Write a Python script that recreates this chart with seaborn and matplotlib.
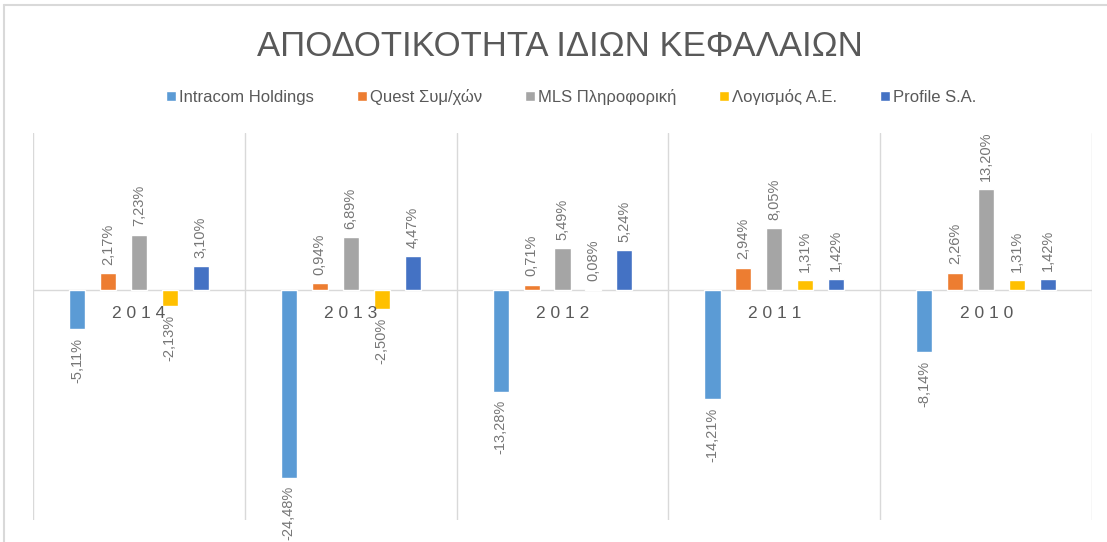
"""
Return on equity per company, 2010-2014
"""

import pandas as pd
import seaborn as sns
import matplotlib.pyplot as plt
from matplotlib.lines import Line2D

# data
YEARS = ['2014', '2013', '2012', '2011', '2010']
COMPANIES = ['Intracom Holdings', 'Quest Συμ/χών', 'MLS Πληροφορική', 'Λογισμός Α.Ε.', 'Profile S.A.']
INTRACOM = [-5.11, -24.48, -13.28, -14.21, -8.14]
QUEST = [2.17, 0.94, 0.71, 2.94, 2.26]
MLS = [7.23, 6.89, 5.49, 8.05, 13.20]
LOGISMOS = [-2.13, -2.50, 0.08, 1.31, 1.31]
PROFILE = [3.10, 4.47, 5.24, 1.42, 1.42]
COLORS = ['#5B9BD5', '#ED7D31', '#A5A5A5', '#FFC000', '#4472C4']

ROWS = []
for company, values in zip(COMPANIES, [INTRACOM, QUEST, MLS, LOGISMOS, PROFILE]):
    for year, value in zip(YEARS, values):
        ROWS.append({'year': year, 'company': company, 'roe': value})
DATA = pd.DataFrame(ROWS)

sns.set_style('white')
plt.rcParams['font.family'] = ['Liberation Sans', 'DejaVu Sans']
GREY = '#595959'
LABEL_GREY = '#767676'
LINE = '#d9d9d9'

fig = plt.figure(figsize=(11.07, 5.42), dpi=100)
ax = fig.add_axes([0.0298, 0.0406, 0.9567, 0.714])

sns.barplot(data=DATA, x='year', y='roe', hue='company', order=YEARS,
            hue_order=COMPANIES, palette=COLORS, width=0.73, gap=0.48,
            saturation=1, ax=ax, legend=True)

for cont in ax.containers:
    ax.bar_label(cont, fmt=lambda v: f'{v:.2f}%'.replace('.', ','),
                 rotation=90, padding=6, color=LABEL_GREY, fontsize=10.5)

ax.set_ylim(-30, 20.5)
ax.set_xlim(-0.5, 4.5)
ax.set_xticks([])
ax.set_yticks([])
ax.set_xlabel('')
ax.set_ylabel('')
sns.despine(ax=ax, left=True, bottom=True)
ax.axhline(0, color=LINE, lw=1, zorder=0)
for i in range(len(YEARS) + 1):
    ax.axvline(i - 0.5, color=LINE, lw=1, zorder=0)

# category labels sit just under the zero line
for i, year in enumerate(YEARS):
    ax.text(i, -3.0, ' '.join(year), ha='center', va='center',
            color=GREY, fontsize=12.5)

ax.legend(loc='center', ncol=5, frameon=False, fontsize=12, handlelength=0.6,
          handleheight=0.6, handletextpad=0.15, columnspacing=2.6, labelcolor=GREY)
ax.get_legend().set_bbox_to_anchor((0.516, 1 - 97 / 542), transform=fig.transFigure)

fig.text(0.506, 1 - 46 / 542, 'ΑΠΟΔΟΤΙΚΟΤΗΤΑ ΙΔΙΩΝ ΚΕΦΑΛΑΙΩΝ', ha='center', va='center',
         fontsize=25, color=GREY)

# chart frame (top and left edges visible in the screenshot)
fig.add_artist(Line2D([4 / 1107, 1], [1 - 5 / 542, 1 - 5 / 542], color=LINE, lw=1.5))
fig.add_artist(Line2D([4 / 1107, 4 / 1107], [0, 1 - 5 / 542], color=LINE, lw=1.5))

plt.savefig('out.png')
